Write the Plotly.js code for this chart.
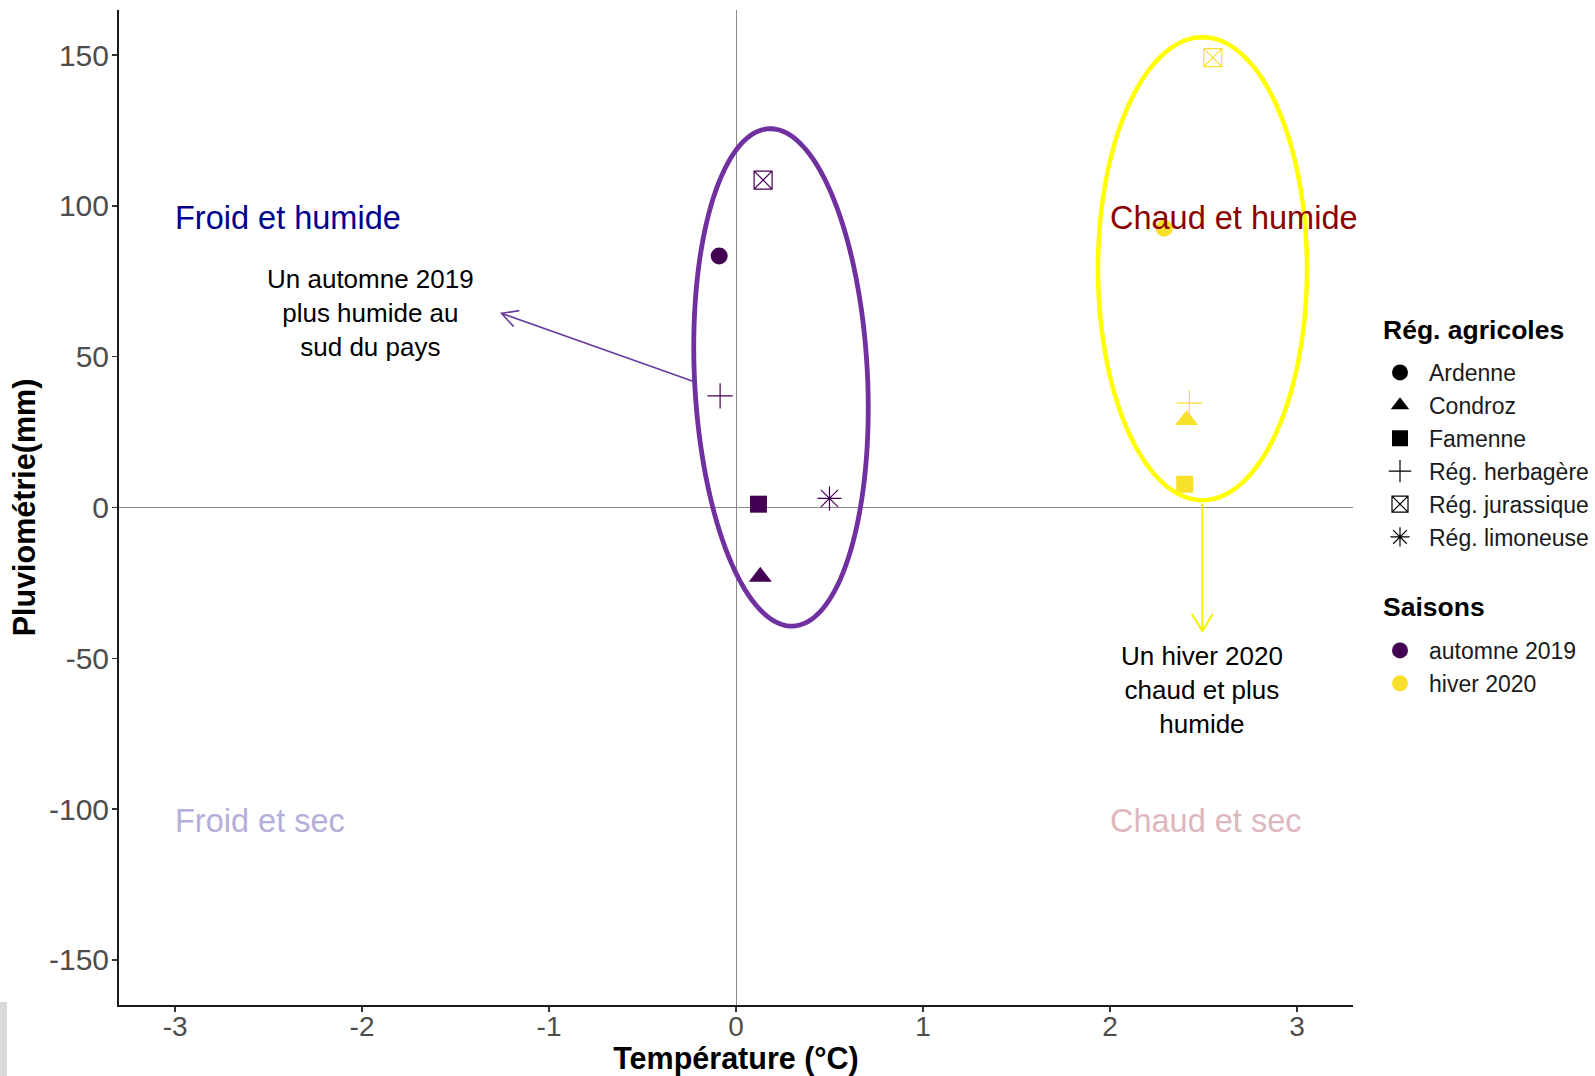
<!DOCTYPE html>
<html><head><meta charset="utf-8">
<script src="https://cdn.plot.ly/plotly-3.0.1.min.js"></script>
<style>html,body{margin:0;padding:0;background:#fff;}#chart{width:1595px;height:1076px;}</style>
</head><body><div id="chart"></div>
<script>
// ---- data ----
const regions = ['Ardenne','Condroz','Famenne','Rég. herbagère','Rég. jurassique','Rég. limoneuse'];
const seasons = ['automne 2019','hiver 2020'];
const tempAutomne2019   = [-0.09, 0.13, 0.12, -0.085, 0.145, 0.50];
const pluvioAutomne2019 = [83.4, -23, 1.1, 37, 108.6, 3.0];
const tempHiver2020     = [2.29, 2.41, 2.40, 2.425, 2.55, null];
const pluvioHiver2020   = [92.6, 29, 7.7, 34.6, 149.2, null];
const xTicks = [-3,-2,-1,0,1,2,3];
const yTicks = [-150,-100,-50,0,50,100,150];
const quadrantLabels = ['Froid et humide','Froid et sec','Chaud et humide','Chaud et sec'];
const noteAutomne = 'Un automne 2019<br>plus humide au<br>sud du pays';
const noteHiver = 'Un hiver 2020<br>chaud et plus<br>humide';
const legendTitles = ['Rég. agricoles','Saisons'];

// ---- styles ----
const FONT = 'Liberation Sans, Arial, sans-serif';
const symbolStyle = {
  'Ardenne':        {symbol:'circle', size:17, lw:0},
  'Condroz':        {symbol:'triangle-up', size:20, lw:0},
  'Famenne':        {symbol:'square', size:17, lw:0},
  'Rég. herbagère': {symbol:'cross-thin-open', size:18, lw:1.2},
  'Rég. jurassique':{symbol:'square-x-open', size:18, lw:1.2},
  'Rég. limoneuse': {symbol:'asterisk-open', size:20, lw:1.2}
};
const seasonColors = {'automne 2019':'#440154', 'hiver 2020':'#F8E02A'};

const W=1595, H=1076, M={l:119, r:242, t:10, b:71};
const xRange=[-3.3,3.3], yRange=[-165,165];
const plotW=W-M.l-M.r, plotH=H-M.t-M.b;
function px2x(px){return xRange[0]+(px-M.l)/plotW*(xRange[1]-xRange[0]);}
function py2y(py){return yRange[1]-(py-M.t)/plotH*(yRange[1]-yRange[0]);}
function P(x,y){return px2x(x).toFixed(5)+','+py2y(y).toFixed(4);}
function ellipsePath(cx,cy,a,b,phi){
  let d='';
  for(let i=0;i<=144;i++){
    const t=i/144*2*Math.PI, x0=b*Math.cos(t), y0=a*Math.sin(t);
    const x=cx+x0*Math.cos(phi)-y0*Math.sin(phi);
    const y=cy+x0*Math.sin(phi)+y0*Math.cos(phi);
    d+=(i?'L':'M')+P(x,y);
  }
  return d+'Z';
}
function arrowPath(x1,y1,x2,y2,len,ang){
  const th=Math.atan2(y1-y2,x1-x2);
  const ax=x2+len*Math.cos(th+ang), ay=y2+len*Math.sin(th+ang);
  const bx=x2+len*Math.cos(th-ang), by=y2+len*Math.sin(th-ang);
  return 'M'+P(x1,y1)+'L'+P(x2,y2)+'M'+P(ax,ay)+'L'+P(x2,y2)+'L'+P(bx,by);
}

function seasonTrace(season, xs, ys){
  const idx = regions.map((r,i)=>i).filter(i=>xs[i]!==null);
  return {
    type:'scatter', mode:'markers', showlegend:false, hoverinfo:'skip',
    x: idx.map(i=>xs[i]), y: idx.map(i=>ys[i]),
    marker:{
      color: seasonColors[season], opacity:1,
      symbol: idx.map(i=>symbolStyle[regions[i]].symbol),
      size: idx.map(i=>symbolStyle[regions[i]].size),
      line:{color: seasonColors[season], width: idx.map(i=>symbolStyle[regions[i]].lw)}
    }
  };
}
const traces = [
  seasonTrace('automne 2019', tempAutomne2019, pluvioAutomne2019),
  seasonTrace('hiver 2020', tempHiver2020, pluvioHiver2020)
];
regions.forEach(r=>{
  const s=symbolStyle[r];
  traces.push({type:'scatter', mode:'markers', x:[null], y:[null], name:r, legend:'legend',
    marker:{color:'#000', opacity:1, symbol:s.symbol, size:16, line:{color:'#000', width:s.lw}}});
});
seasons.forEach(s=>{
  traces.push({type:'scatter', mode:'markers', x:[null], y:[null], name:s, legend:'legend2',
    marker:{color:seasonColors[s], opacity:1, symbol:'circle', size:16}});
});

const quadPos = [[-3,96,'#00008B'],[-3,-104,'#B4AFDA'],[2,96,'#8B0000'],[2,-104,'#DDB7BD']];
const annotations = quadrantLabels.map((t,i)=>({
  x:quadPos[i][0], y:quadPos[i][1], xref:'x', yref:'y', text:t, showarrow:false, xshift:-2,
  xanchor:'left', yanchor:'middle', font:{family:FONT, size:32.5, color:quadPos[i][2]}
}));
annotations.push({x:px2x(370), y:py2y(313), xref:'x', yref:'y', text:noteAutomne, showarrow:false,
  xanchor:'center', yanchor:'middle', align:'center', font:{family:FONT, size:26, color:'#000'}});
annotations.push({x:px2x(1202), y:py2y(690), xref:'x', yref:'y', text:noteHiver, showarrow:false,
  xanchor:'center', yanchor:'middle', align:'center', font:{family:FONT, size:26, color:'#000'}});
const legTitlePos = [[1381,330],[1381,607]];
legendTitles.forEach((t,i)=>annotations.push({
  x:(legTitlePos[i][0]-M.l)/plotW, y:(M.t+plotH-legTitlePos[i][1])/plotH, xref:'paper', yref:'paper',
  text:'<b>'+t+'</b>', showarrow:false, xanchor:'left', yanchor:'middle',
  font:{family:FONT, size:26.5, color:'#000'}}));

const shapes = [
  {type:'path', xref:'x', yref:'y', path:ellipsePath(781,377.4,249,86.5,-0.049),
   line:{color:'#7030A0', width:4.8}, fillcolor:'rgba(0,0,0,0)'},
  {type:'path', xref:'x', yref:'y', path:ellipsePath(1202.5,268.7,231.5,104.5,0),
   line:{color:'#FFFF00', width:4.5}, fillcolor:'rgba(0,0,0,0)'},
  {type:'path', xref:'x', yref:'y', path:arrowPath(693.7,381.5,501.5,313.3,18,0.49),
   line:{color:'#6A3A9E', width:1.6}, fillcolor:'rgba(0,0,0,0)'},
  {type:'path', xref:'x', yref:'y', path:arrowPath(1202.3,503.5,1202.3,631,20,0.55),
   line:{color:'#F2F200', width:2}, fillcolor:'rgba(0,0,0,0)'},
  {type:'rect', xref:'paper', yref:'paper', x0:(0-M.l)/plotW, x1:(7-M.l)/plotW,
   y0:(M.t+plotH-1076)/plotH, y1:(M.t+plotH-1002)/plotH, line:{width:0}, fillcolor:'#D9D9D9'}
];

const axisCommon = {
  showgrid:false, zeroline:true, zerolinecolor:'#8a8a8a', zerolinewidth:1,
  showline:true, linecolor:'#1a1a1a', linewidth:2, mirror:false,
  ticks:'outside', ticklen:5, tickwidth:1.5, tickcolor:'#333',
  automargin:false, fixedrange:true
};
const legendCommon = {xref:'container', yref:'container', x:1371/W, xanchor:'left', yanchor:'top',
  font:{family:FONT, size:23, color:'#1a1a1a'}, bgcolor:'rgba(0,0,0,0)', tracegroupgap:0, itemwidth:48};
const layout = {
  width:W, height:H, margin:M, paper_bgcolor:'#fff', plot_bgcolor:'#fff',
  font:{family:FONT},
  xaxis:Object.assign({}, axisCommon, {range:xRange, tickvals:xTicks, ticktext:xTicks.map(String),
    tickfont:{family:FONT, size:28, color:'#4D4D4D'}, ticklabelstandoff:-10,
    title:{text:'<b>Température (°C)</b>', font:{family:FONT, size:30.5, color:'#000'}, standoff:4}}),
  yaxis:Object.assign({}, axisCommon, {range:yRange, tickvals:yTicks, ticktext:yTicks.map(String),
    tickfont:{family:FONT, size:30, color:'#4D4D4D'}, ticklabelstandoff:-3,
    title:{text:'<b>Pluviométrie(mm)</b>', font:{family:FONT, size:30.5, color:'#000'}, standoff:4}}),
  legend:Object.assign({}, legendCommon, {y:1-351/H}),
  legend2:Object.assign({}, legendCommon, {y:1-629/H}),
  annotations:annotations, shapes:shapes, showlegend:true
};
Plotly.newPlot('chart', traces, layout, {displayModeBar:false, staticPlot:true});
</script>
</body></html>
